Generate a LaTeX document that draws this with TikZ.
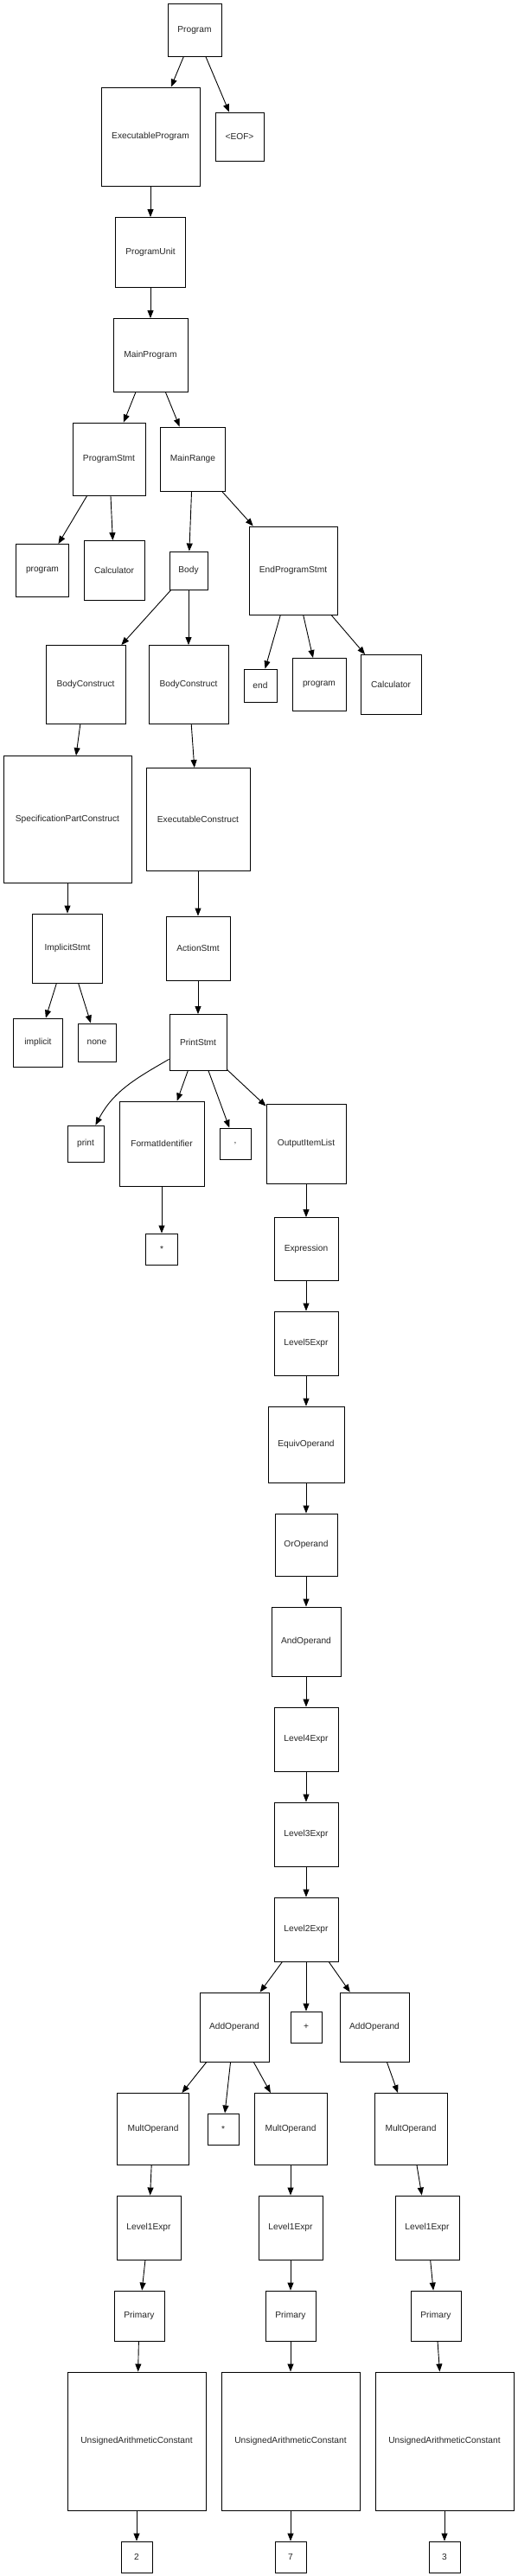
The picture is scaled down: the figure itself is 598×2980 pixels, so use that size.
\documentclass[tikz,border=0pt]{standalone}
\usepackage{fontspec}
\setmainfont{Liberation Sans}
\usetikzlibrary{arrows.meta}
\begin{document}
\begin{tikzpicture}[x=1pt,y=-1pt,
  bx/.style={draw=black,line width=0.9pt,inner sep=0pt,font=\fontsize{10.2}{12}\selectfont,text=black!85},
  sz/.style 2 args={minimum width=#1pt,minimum height=#2pt},
  ed/.style={line width=0.9pt,-{Triangle[length=9pt,width=7pt]}}]
\fill[white] (0,0) rectangle (598,2980);
\useasboundingbox (0,0) rectangle (598,2980);
% nodes
\node[bx,sz={62}{61}] (prog) at (225,35) {Program};
\node[bx,sz={114}{114}] (exe) at (174,158) {ExecutableProgram};
\node[bx,sz={56}{56}] (eof) at (277,158) {<EOF>};
\node[bx,sz={81}{81}] (pu) at (174,292) {ProgramUnit};
\node[bx,sz={86}{85}] (mp) at (174,411) {MainProgram};
\node[bx,sz={84}{84}] (ps) at (126,531) {ProgramStmt};
\node[bx,sz={75}{74}] (mr) at (223,531) {MainRange};
\node[bx,sz={61}{61}] (kprog) at (49,660) {program};
\node[bx,sz={70}{69}] (calc) at (132,660) {Calculator};
\node[bx,sz={44}{44}] (body) at (218,660) {Body};
\node[bx,sz={102}{102}] (eps) at (339,660) {EndProgramStmt};
\node[bx,sz={92}{91}] (bc1) at (99,792) {BodyConstruct};
\node[bx,sz={92}{91}] (bc2) at (218,792) {BodyConstruct};
\node[bx,sz={38}{38}] (kend) at (301,793) {end};
\node[bx,sz={62}{61}] (kprog2) at (369,792) {program};
\node[bx,sz={70}{69}] (calc2) at (452,792) {Calculator};
\node[bx,sz={148}{147}] (spc) at (78,948) {SpecificationPartConstruct};
\node[bx,sz={120}{119}] (ec) at (229,948) {ExecutableConstruct};
\node[bx,sz={81}{80}] (is) at (78,1097) {ImplicitStmt};
\node[bx,sz={74}{74}] (as) at (229,1097) {ActionStmt};
\node[bx,sz={57}{56}] (kimp) at (44,1206) {implicit};
\node[bx,sz={44}{44}] (knone) at (112,1206) {none};
\node[bx,sz={66}{65}] (prs) at (229,1206) {PrintStmt};
\node[bx,sz={42}{42}] (kprint) at (99,1323) {print};
\node[bx,sz={98}{98}] (fi) at (187,1323) {FormatIdentifier};
\node[bx,sz={36}{36}] (kcomma) at (272,1323) {,};
\node[bx,sz={92}{92}] (oil) at (354,1323) {OutputItemList};
\node[bx,sz={37}{36}] (kstar) at (187,1445) {*};
\node[bx,sz={74}{73}] (expr) at (354,1445) {Expression};
\node[bx,sz={74}{74}] (l5) at (354,1554) {Level5Expr};
\node[bx,sz={88}{88}] (eqv) at (354,1671) {EquivOperand};
\node[bx,sz={72}{72}] (oro) at (354,1787) {OrOperand};
\node[bx,sz={80}{80}] (ando) at (354,1899) {AndOperand};
\node[bx,sz={74}{74}] (l4) at (354,2012) {Level4Expr};
\node[bx,sz={74}{74}] (l3) at (354,2122) {Level3Expr};
\node[bx,sz={74}{74}] (l2) at (354,2232) {Level2Expr};
\node[bx,sz={80}{80}] (ao1) at (271,2345) {AddOperand};
\node[bx,sz={36}{36}] (kplus) at (354,2345) {+};
\node[bx,sz={80}{80}] (ao2) at (433,2345) {AddOperand};
\node[bx,sz={83}{83}] (mo1) at (177,2463) {MultOperand};
\node[bx,sz={36}{36}] (ktimes) at (258,2463) {*};
\node[bx,sz={84}{83}] (mo2) at (336,2463) {MultOperand};
\node[bx,sz={84}{83}] (mo3) at (475,2463) {MultOperand};
\node[bx,sz={74}{74}] (le1) at (172,2577) {Level1Expr};
\node[bx,sz={74}{74}] (le2) at (336,2577) {Level1Expr};
\node[bx,sz={74}{74}] (le3) at (494,2577) {Level1Expr};
\node[bx,sz={58}{58}] (pr1) at (161,2679) {Primary};
\node[bx,sz={58}{58}] (pr2) at (336,2679) {Primary};
\node[bx,sz={58}{58}] (pr3) at (504,2679) {Primary};
\node[bx,sz={160}{160}] (u1) at (158,2824) {UnsignedArithmeticConstant};
\node[bx,sz={160}{160}] (u2) at (336,2824) {UnsignedArithmeticConstant};
\node[bx,sz={160}{160}] (u3) at (514,2824) {UnsignedArithmeticConstant};
\node[bx,sz={36}{36}] (n2) at (158,2958) {2};
\node[bx,sz={36}{36}] (n7) at (336,2958) {7};
\node[bx,sz={36}{36}] (n3) at (514,2958) {3};
% edges
\foreach \a/\b in {prog/exe,prog/eof,exe/pu,pu/mp,mp/ps,mp/mr,ps/kprog,ps/calc,
  mr/body,mr/eps,body/bc1,body/bc2,eps/kend,eps/kprog2,eps/calc2,bc1/spc,bc2/ec,
  spc/is,ec/as,is/kimp,is/knone,as/prs,prs/fi,prs/kcomma,prs/oil,fi/kstar,
  oil/expr,expr/l5,l5/eqv,eqv/oro,oro/ando,ando/l4,l4/l3,l3/l2,l2/ao1,l2/kplus,
  l2/ao2,ao1/mo1,ao1/ktimes,ao1/mo2,ao2/mo3,mo1/le1,mo2/le2,mo3/le3,le1/pr1,
  le2/pr2,le3/pr3,pr1/u1,pr2/u2,pr3/u3,u1/n2,u2/n7,u3/n3}
  \draw[ed] (\a) -- (\b);
\draw[ed] (prs) to[out=210,in=62] (kprint);
\end{tikzpicture}
\end{document}
